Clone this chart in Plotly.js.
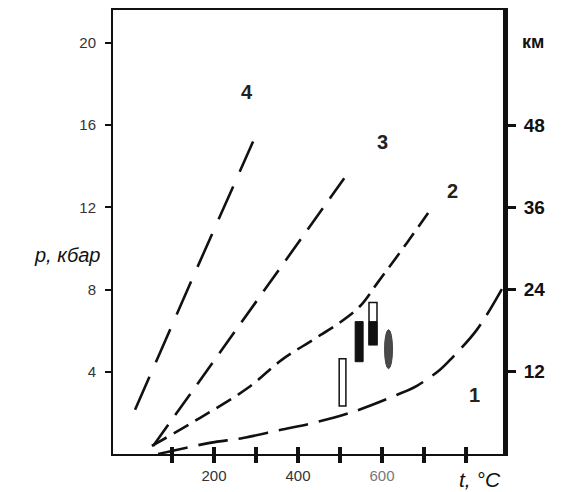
<!DOCTYPE html>
<html>
<head>
<meta charset="utf-8">
<script src="https://cdn.plot.ly/plotly-3.0.1.min.js"></script>
<style>html,body{margin:0;padding:0;background:#fff;}#chart{width:561px;height:492px;}</style>
</head>
<body>
<div id="chart"></div>
<script>
// Curves: temperature t (°C) and pressure p (kbar)
const curve1T = [67, 190, 269, 357, 436, 531, 636, 683, 738, 769, 826, 886];
const curve1P = [0.0, 0.54, 0.78, 1.17, 1.51, 2.05, 2.88, 3.32, 4.10, 4.73, 6.05, 8.05];
const curve2T = [52, 167, 281, 362, 436, 500, 548, 590, 660, 719];
const curve2P = [0.39, 1.76, 3.22, 4.59, 5.56, 6.40, 7.20, 8.35, 10.29, 12.0];
const curve3T = [55, 352, 510];
const curve3P = [0.39, 8.88, 13.41];
const curve4T = [12, 152, 293];
const curve4P = [2.15, 8.7, 15.2];

const curveNames = ['1', '2', '3', '4'];
const labelT = [821, 767, 600, 279];
const labelP = [2.88, 12.78, 15.17, 17.6];

// Samples (rectangles): t range, p range, filled part
const openRectT = [498, 514];
const openRectP = [2.34, 4.63];
const darkRectT = [536, 555];
const darkRectP = [4.49, 6.44];
const halfRectT = [569, 588];
const halfRectP = [5.32, 7.37];
const halfRectFillP = [5.32, 6.44];
const ellipseT = [606, 625];
const ellipseP = [4.15, 6.05];

// Axes
const xTickVals = [100, 200, 300, 400, 500, 600, 700, 800];
const xTickText = ['', '200', '', '400', '', '600', '', ''];
const pTickVals = [4, 8, 12, 16, 20];
const kmTickVals = [12, 24, 36, 48];

const FONT = 'Arial, "Liberation Sans", sans-serif';

function dashed(t, p, dash, shape) {
  return {x: t, y: p, type: 'scatter', mode: 'lines', xaxis: 'x', yaxis: 'y',
    line: {color: '#111', width: 2.6, dash: dash, shape: shape || 'linear', smoothing: 1},
    hoverinfo: 'skip', showlegend: false};
}

const traces = [
  dashed(curve1T, curve1P, '30px,11px', 'spline'),
  dashed(curve2T, curve2P, '17px,8px', 'spline'),
  dashed(curve3T, curve3P, '26px,12px', 'linear'),
  dashed(curve4T, curve4P, '36px,16px', 'linear'),
  // tick marks crossing the bottom axis
  {x: xTickVals, y: xTickVals.map(() => 0), xaxis: 'x', yaxis: 'y', type: 'scatter', mode: 'markers',
   cliponaxis: false, marker: {symbol: 'line-ns', size: 10, line: {color: '#111', width: 4}},
   showlegend: false, hoverinfo: 'skip'},
  {x: [null], y: [null], xaxis: 'x', yaxis: 'y2', type: 'scatter', mode: 'lines', showlegend: false, hoverinfo: 'skip'}
];

const shapes = [
  {type: 'rect', xref: 'x', yref: 'y', x0: openRectT[0], x1: openRectT[1], y0: openRectP[0], y1: openRectP[1],
   line: {color: '#111', width: 1.5}, fillcolor: '#fff'},
  {type: 'rect', xref: 'x', yref: 'y', x0: darkRectT[0], x1: darkRectT[1], y0: darkRectP[0], y1: darkRectP[1],
   line: {color: '#111', width: 1}, fillcolor: '#111'},
  {type: 'rect', xref: 'x', yref: 'y', x0: halfRectT[0], x1: halfRectT[1], y0: halfRectFillP[0], y1: halfRectFillP[1],
   line: {color: '#111', width: 1}, fillcolor: '#111'},
  {type: 'rect', xref: 'x', yref: 'y', x0: halfRectT[0], x1: halfRectT[1], y0: halfRectP[0], y1: halfRectP[1],
   line: {color: '#111', width: 1.5}, fillcolor: 'rgba(0,0,0,0)'},
  {type: 'circle', xref: 'x', yref: 'y', x0: ellipseT[0], x1: ellipseT[1], y0: ellipseP[0], y1: ellipseP[1],
   line: {color: '#444', width: 1}, fillcolor: '#4a4a4a'}
];

const annotations = curveNames.map((n, i) => ({
  x: labelT[i], y: labelP[i], xref: 'x', yref: 'y', text: '<b>' + n + '</b>', showarrow: false,
  font: {family: FONT, size: 20, color: '#222'}
}));
annotations.push(
  {x: -0.028, y: 0.448, xref: 'paper', yref: 'paper', xanchor: 'right', yanchor: 'middle',
   text: '<i>p, кбар</i>', showarrow: false, font: {family: FONT, size: 20, color: '#111'}},
  {x: 1.043, y: 0.928, xref: 'paper', yref: 'paper', xanchor: 'left', yanchor: 'middle',
   text: '<b>км</b>', showarrow: false, font: {family: FONT, size: 18, color: '#111'}},
  {x: 0.941, y: -0.058, xref: 'paper', yref: 'paper', xanchor: 'center', yanchor: 'middle',
   text: '<i>t, °C</i>', showarrow: false, font: {family: FONT, size: 21, color: '#111'}}
);

const layout = {
  width: 561, height: 492,
  margin: {l: 113, r: 58, t: 10, b: 38},
  paper_bgcolor: '#fff', plot_bgcolor: '#fff',
  showlegend: false,
  xaxis: {range: [-40.5, 888], showgrid: false, zeroline: false, showline: true, mirror: true,
    linecolor: '#111', linewidth: 2, ticks: 'outside', ticklen: 7, tickwidth: 4, tickcolor: '#111',
    tickvals: xTickVals,
    ticktext: xTickText.map(s => s === '600' ? '<span style="color:#777">' + s + '</span>' : s),
    tickfont: {family: FONT, size: 15, color: '#333'}, fixedrange: true},
  yaxis: {range: [0, 21.6], showgrid: false, zeroline: false, showline: true, linecolor: '#111', linewidth: 2,
    ticks: 'outside', ticklen: 6, tickwidth: 2, tickcolor: '#111', tickvals: pTickVals,
    ticklabelstandoff: 6,
    tickfont: {family: FONT, size: 15, color: '#333'}, fixedrange: true},
  yaxis2: {range: [0, 64.8], overlaying: 'y', side: 'right', anchor: 'x', showgrid: false, zeroline: false,
    showline: true, linecolor: '#111', linewidth: 5, ticks: 'outside', ticklen: 8, tickwidth: 3, tickcolor: '#111',
    tickvals: kmTickVals, ticklabelstandoff: 4,
    tickfont: {family: FONT, size: 19, color: '#111', weight: 'bold'}, fixedrange: true},
  shapes: shapes,
  annotations: annotations
};

Plotly.newPlot('chart', traces, layout, {staticPlot: true, displayModeBar: false});
</script>
</body>
</html>
